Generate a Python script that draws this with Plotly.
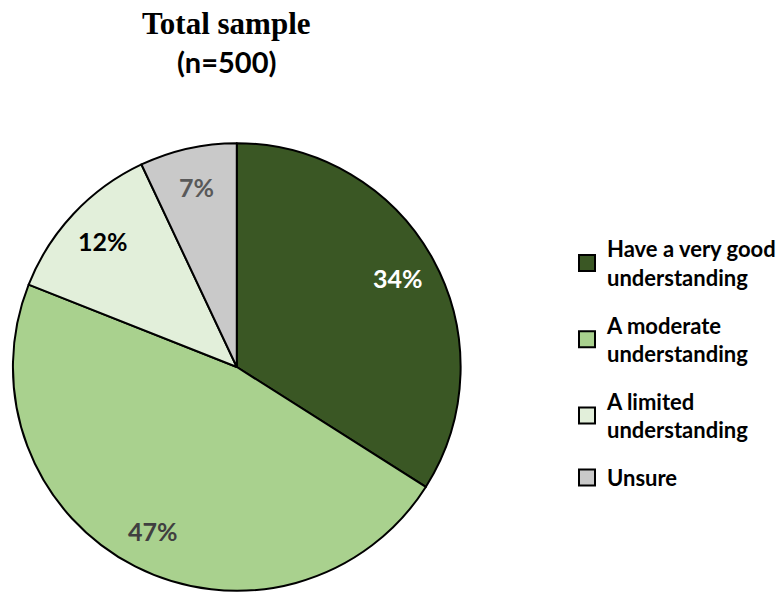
import math
import plotly.graph_objects as go

categories = ["Have a very good<br>understanding", "A moderate<br>understanding",
              "A limited<br>understanding", "Unsure"]
values = [34, 47, 12, 7]
colors = ["#3A5724", "#A9D18E", "#E2EFDA", "#C9C9C9"]
label_colors = ["#FFFFFF", "#404040", "#000000", "#595959"]
title_main = "Total sample"
title_sub = "(n=500)"

W, H = 781, 593
CX, CY, R = 238, 367, 225
LABEL_R = 0.82

fig = go.Figure()
fig.add_trace(go.Pie(
    labels=categories, values=values, sort=False, direction="clockwise",
    rotation=0, textinfo="none", hoverinfo="label+percent",
    marker=dict(colors=colors, line=dict(color="#000000", width=2)),
    showlegend=False,
    domain=dict(x=[(CX - R) / W, (CX + R) / W], y=[1 - (CY + R) / H, 1 - (CY - R) / H]),
))

# legend entries
for i, (c, col) in enumerate(zip(categories, colors)):
    fig.add_trace(go.Scatter(
        x=[None], y=[None], mode="markers", name=c, legendgroup=str(i),
        marker=dict(symbol="square", size=16, color=col, line=dict(color="#000000", width=2)),
    ))

# slice labels, placed from the data
total = sum(values)
cum = 0
annotations = []
for v, lc in zip(values, label_colors):
    mid = (cum + v / 2) / total * 2 * math.pi
    cum += v
    px = CX + LABEL_R * R * math.sin(mid)
    py = CY - LABEL_R * R * math.cos(mid)
    annotations.append(dict(
        x=px / W, y=1 - py / H, xref="paper", yref="paper", showarrow=False,
        text=f"<b>{round(v / total * 100)}%</b>",
        font=dict(family="Lato", size=25, color=lc),
        xanchor="center", yanchor="middle",
    ))

annotations.append(dict(
    x=228 / W, y=1 - 24 / H, xref="paper", yref="paper", showarrow=False,
    text=f"<b>{title_main}</b>", font=dict(family="Liberation Serif", size=31, color="#000000"),
    xanchor="center", yanchor="middle"))
annotations.append(dict(
    x=228 / W, y=1 - 62 / H, xref="paper", yref="paper", showarrow=False,
    text=f"<b>{title_sub}</b>", font=dict(family="Lato", size=29, color="#000000"),
    xanchor="center", yanchor="middle"))

fig.update_layout(
    width=W, height=H, margin=dict(l=0, r=0, t=0, b=0),
    paper_bgcolor="white", plot_bgcolor="white",
    xaxis=dict(visible=False), yaxis=dict(visible=False),
    annotations=annotations,
    legend=dict(x=570 / W, y=1 - 228 / H, xanchor="left", yanchor="top",
                font=dict(family="Lato", size=22, color="#000000", weight="bold"),
                tracegroupgap=16, bgcolor="rgba(0,0,0,0)"),
)

fig.write_html("out.html")
